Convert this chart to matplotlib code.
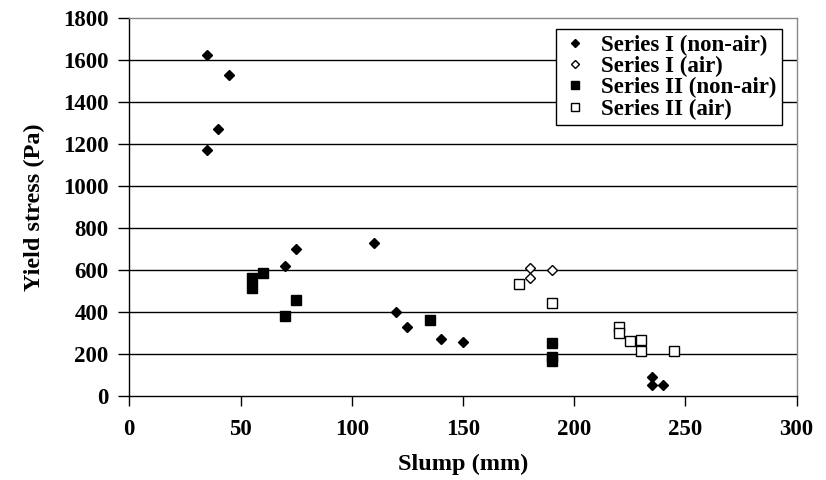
import matplotlib
matplotlib.use("Agg")
import matplotlib.pyplot as plt

# Series I (non-air)
s1n_x = [35, 45, 40, 35, 75, 70, 110, 120, 125, 140, 150, 235, 235, 240]
s1n_y = [1625, 1530, 1270, 1170, 700, 620, 730, 400, 330, 270, 255, 90, 50, 50]
# Series I (air)
s1a_x = [180, 180, 190]
s1a_y = [610, 560, 600]
# Series II (non-air)
s2n_x = [55, 55, 60, 70, 75, 135, 190, 190, 190]
s2n_y = [560, 515, 585, 380, 455, 360, 250, 185, 165]
# Series II (air)
s2a_x = [175, 190, 220, 220, 225, 230, 230, 245]
s2a_y = [535, 440, 330, 300, 260, 268, 215, 215]

labels = ["Series I (non-air)", "Series I (air)", "Series II (non-air)", "Series II (air)"]
x_ticks = [0, 50, 100, 150, 200, 250, 300]
y_ticks = [0, 200, 400, 600, 800, 1000, 1200, 1400, 1600, 1800]

plt.rcParams['font.family'] = ['Liberation Serif', 'DejaVu Serif']
plt.rcParams['font.weight'] = 'bold'

fig = plt.figure(figsize=(8.26, 4.80), dpi=100)
ax = fig.add_axes([0.1565, 0.1756, 0.808, 0.7864])

for y in y_ticks[1:-1]:
    ax.axhline(y, color='black', lw=1.0, zorder=1)

ax.plot(s1n_x, s1n_y, 'D', ms=5.5, mfc='black', mec='black', mew=1, ls='none', label=labels[0], zorder=3)
ax.plot(s1a_x, s1a_y, 'D', ms=5.5, mfc='white', mec='black', mew=1, ls='none', label=labels[1], zorder=3)
ax.plot(s2n_x, s2n_y, 's', ms=7.5, mfc='black', mec='black', mew=1, ls='none', label=labels[2], zorder=3)
ax.plot(s2a_x, s2a_y, 's', ms=7, mfc='white', mec='black', mew=1, ls='none', label=labels[3], zorder=3)

ax.set_xlim(0, 300)
ax.set_ylim(0, 1800)
ax.set_xticks(x_ticks)
ax.set_yticks(y_ticks)
ax.tick_params(axis='both', labelsize=16.5, colors='black', width=1)
ax.tick_params(axis='x', direction='out', length=7, pad=10)
ax.tick_params(axis='y', direction='out', length=8, pad=7)
for lab in ax.get_xticklabels() + ax.get_yticklabels():
    lab.set_fontweight('bold')

ax.spines['left'].set_color('black')
ax.spines['bottom'].set_color('black')
ax.spines['top'].set_color('#888888')
ax.spines['right'].set_color('#888888')
for s in ax.spines.values():
    s.set_linewidth(1.0)

ax.set_xlabel("Slump (mm)", fontsize=17.5, fontweight='bold', labelpad=10)
ax.set_ylabel("Yield stress (Pa)", fontsize=17.5, fontweight='bold', labelpad=13)

leg = ax.legend(loc='upper right', bbox_to_anchor=(0.9775, 0.971),
                prop={'weight': 'bold', 'size': 16.5}, frameon=True, fancybox=False,
                edgecolor='black', framealpha=1, borderpad=0.25, labelspacing=0.0,
                handletextpad=0.5, handlelength=1.2, markerscale=0.75, borderaxespad=0)
leg.get_frame().set_linewidth(1.0)

fig.savefig("out.png", dpi=100)
